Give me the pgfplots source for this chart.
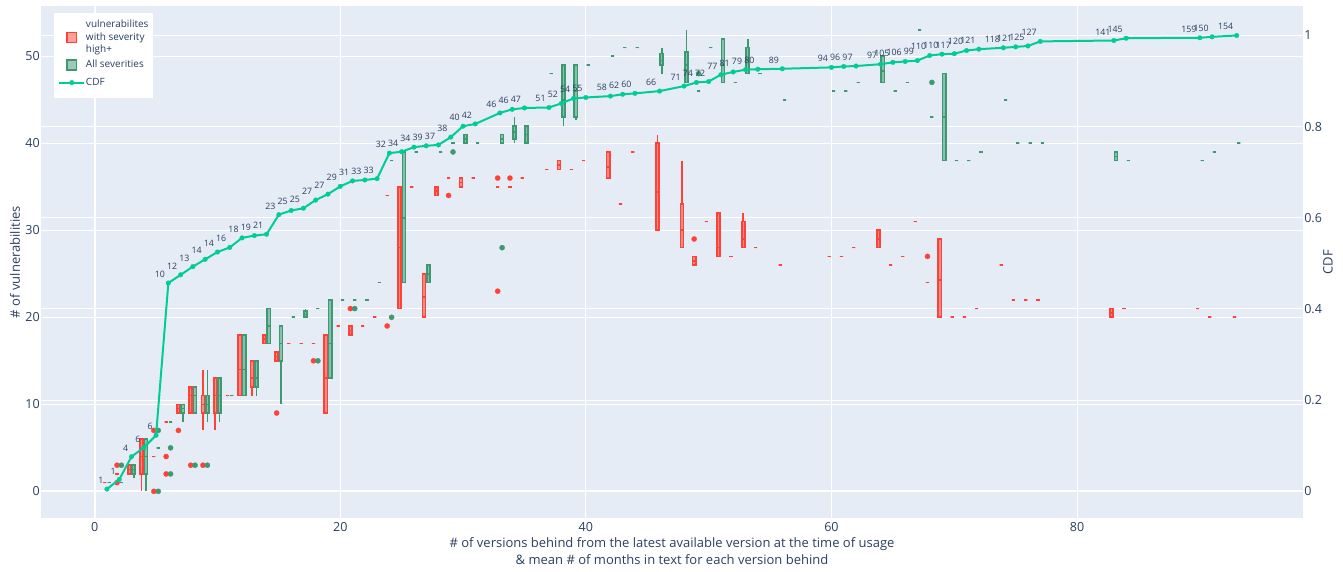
\documentclass[border=0pt]{standalone}
\usepackage{pgfplots}
\pgfplotsset{compat=1.18}
\usepackage{pgfplotstable}
\usepgfplotslibrary{statistics}
\usepackage{fontspec}
\setmainfont{Open Sans}

\definecolor{plotbg}{HTML}{E5ECF6}
\definecolor{labcol}{HTML}{2A3F5F}
\definecolor{redline}{HTML}{FF4136}
\definecolor{greenline}{HTML}{3D9970}
\definecolor{cdfcol}{HTML}{00CC96}

\pgfplotsset{
  boxbase/.style={line width=1.2pt, mark=*, mark size=1.95pt,
    boxplot/draw direction=y,
    boxplot/box extend=0.25, boxplot/whisker extend=0},
  redbox/.style={boxbase, draw=redline,
    mark options={solid, draw=redline, fill=redline, line width=0.2pt},
    boxplot/every box/.style={draw=redline, fill=redline, fill opacity=0.55, draw opacity=1}},
  greenbox/.style={boxbase, draw=greenline,
    mark options={solid, draw=greenline, fill=greenline, line width=0.2pt},
    boxplot/every box/.style={draw=greenline, fill=greenline, fill opacity=0.55, draw opacity=1}},
  squarelegend/.style={legend image code/.code={
    \draw[draw=#1, fill=#1, fill opacity=0.5, draw opacity=1, line width=1pt]
      (-3.7pt,-3.7pt) rectangle (3.7pt,3.7pt);}},
  tallsquarelegend/.style={legend image code/.code={
    \path (0pt,-5.6pt) (0pt,5.6pt);
    \draw[draw=#1, fill=#1, fill opacity=0.5, draw opacity=1, line width=1pt]
      (-3.7pt,-3.7pt) rectangle (3.7pt,3.7pt);}},
  centredline/.style={legend image code/.code={
    \path (0pt,-5.6pt) (0pt,5.6pt);
    \draw[mark repeat=2, mark phase=2, ##1] plot coordinates {(-9.4pt,0pt) (0pt,0pt) (9.4pt,0pt)};}},
}

% one box: position, lower whisker, lower quartile, median, upper quartile, upper whisker, outliers
\newcommand{\R}[7]{\addplot[redbox, boxplot prepared={draw position=#1-0.18,
  lower whisker=#2, lower quartile=#3, median=#4, upper quartile=#5, upper whisker=#6}]
  table[row sep=\\, y index=0] {v\\#7};}
\newcommand{\G}[7]{\addplot[greenbox, boxplot prepared={draw position=#1+0.18,
  lower whisker=#2, lower quartile=#3, median=#4, upper quartile=#5, upper whisker=#6}]
  table[row sep=\\, y index=0] {v\\#7};}
% a group holding a single repeated value
\newcommand{\Ra}[3]{\R{#1}{#2}{#2}{#2}{#2}{#2}{#3}}
\newcommand{\Ga}[3]{\G{#1}{#2}{#2}{#2}{#2}{#2}{#3}}

% cumulative share of usages per number of versions behind, with mean months
\pgfplotstableread{
x c lab
1 0.005 1
2 0.026 1
3 0.076 4
4 0.096 6
5 0.123 6
6 0.457 10
7 0.475 12
8 0.493 13
9 0.509 14
10 0.525 14
11 0.535 16
12 0.556 18
13 0.561 19
14 0.564 21
15 0.607 23
16 0.616 25
17 0.621 25
18 0.639 27
19 0.652 27
20 0.669 29
21 0.681 31
22 0.683 33
23 0.686 33
24 0.742 32
25 0.745 34
26 0.755 34
27 0.758 39
28 0.760 37
29 0.777 38
30 0.801 40
31 0.806 42
33 0.830 46
34 0.838 46
35 0.841 47
37 0.842 51
38 0.851 52
39 0.862 54
40 0.864 55
42 0.867 58
43 0.871 62
44 0.873 60
46 0.878 66
48 0.889 71
49 0.897 74
50 0.899 72
51 0.914 77
52 0.920 81
53 0.925 79
54 0.926 80
56 0.927 89
60 0.930 94
61 0.932 96
62 0.933 97
64 0.937 97
65 0.941 105
66 0.943 106
67 0.945 99
68 0.956 110
69 0.959 110
70 0.960 117
71 0.967 120
72 0.970 121
74 0.973 118
75 0.975 121
76 0.977 125
77 0.987 127
83 0.989 141
84 0.994 145
90 0.995 159
91 0.997 150
93 1.000 154
}\cdf

\begin{document}
\begin{tikzpicture}
\begin{axis}[
  width=946.5pt, height=383.4pt, scale only axis,
  xmin=-4.37, xmax=98.4, ymin=-3.03, ymax=55.72,
  axis background/.style={fill=plotbg},
  axis line style={draw=none},
  tick style={draw=none},
  xtick={0,20,40,60,80}, xticklabels={0,20,40,60,80},
  ytick={0,10,20,30,40,50}, yticklabels={0,10,20,30,40,50},
  minor ytick={10.478,20.957,31.435,41.913,52.391},
  extra x ticks={0}, extra x tick labels={},
  extra y ticks={0}, extra y tick labels={},
  extra tick style={major grid style={white, line width=1.5pt}},
  grid=both,
  major grid style={white, line width=0.75pt},
  minor grid style={white, line width=0.75pt},
  tick label style={font=\fontsize{9.4}{11}\selectfont, text=labcol},
  xticklabel style={anchor=north, inner sep=0pt, yshift=-3pt},
  yticklabel style={anchor=east, inner sep=0pt, xshift=-0.75pt},
  every axis y label/.style={at={(axis description cs:-0.0206,0.5)}, rotate=90, anchor=center,
    font=\fontsize{9.75}{12}\selectfont, text=labcol},
  every axis x label/.style={at={(axis description cs:0.5,-0.066)}, anchor=center, align=center,
    font=\fontsize{9.75}{12.75}\selectfont, text=labcol},
  ylabel={\# of vulnerabilities},
  xlabel={\# of versions behind from the latest available version at the time of usage\\
          \& mean \# of months in text for each version behind},
]
% vulnerabilities with severity high+
\Ra{1}{1}{}
\Ra{2}{2}{1\\3\\}
\R{3}{2}{2}{2.5}{3}{3}{}
\R{4}{0}{2}{4}{6}{6}{}
\Ra{5}{4}{0\\7\\}
\Ra{6}{8}{4\\2\\}
\R{7}{9}{9}{9.5}{10}{10}{7\\}
\R{8}{9}{9}{11}{12}{12}{3\\}
\R{9}{7}{9}{10}{11}{14}{3\\}
\R{10}{7}{9}{11}{13}{13}{}
\Ra{11}{11}{}
\R{12}{11}{11}{14}{18}{18}{}
\R{13}{11}{12}{13}{15}{15}{}
\R{14}{17}{17}{17.5}{18}{18}{}
\R{15}{15}{15}{15.5}{16}{16}{9\\}
\Ra{16}{17}{}
\Ra{17}{17}{}
\Ra{18}{17}{15\\}
\R{19}{9}{9}{13}{18}{18}{}
\Ra{20}{19}{}
\R{21}{18}{18}{18.5}{19}{19}{21\\}
\Ra{22}{19}{}
\Ra{23}{20}{}
\Ra{24}{34}{19\\}
\R{25}{21}{21}{28}{35}{35}{}
\Ra{26}{35}{}
\R{27}{20}{20}{22.3}{25}{25}{}
\R{28}{34}{34}{34.5}{35}{35}{}
\Ra{29}{36}{34\\}
\R{30}{35}{35}{35.5}{36}{36}{}
\Ra{31}{36}{}
\Ra{33}{35}{36\\23\\}
\Ra{34}{35}{36\\}
\Ra{35}{36}{}
\Ra{37}{37}{}
\R{38}{37}{37}{37.5}{38}{38}{}
\Ra{39}{37}{}
\Ra{40}{38}{}
\R{42}{36}{36}{37.3}{39}{39}{}
\Ra{43}{33}{}
\Ra{44}{39}{}
\R{46}{30}{30}{34.4}{40}{41}{}
\R{48}{28}{28}{30}{33}{38}{}
\R{49}{26}{26}{26.5}{27}{27}{29\\}
\Ra{50}{31}{}
\R{51}{27}{27}{28}{32}{32}{}
\Ra{52}{27}{}
\R{53}{28}{28}{29}{31}{32}{}
\Ra{54}{28}{}
\Ra{56}{26}{}
\Ra{60}{27}{}
\Ra{61}{27}{}
\Ra{62}{28}{}
\R{64}{28}{28}{29}{30}{30}{}
\Ra{65}{26}{}
\Ra{66}{27}{}
\Ra{67}{31}{}
\Ra{68}{24}{27\\}
\R{69}{20}{20}{24.3}{29}{29}{}
\Ra{70}{20}{}
\Ra{71}{20}{}
\Ra{72}{21}{}
\Ra{74}{26}{}
\Ra{75}{22}{}
\Ra{76}{22}{}
\Ra{77}{22}{}
\R{83}{20}{20}{20.5}{21}{21}{}
\Ra{84}{21}{}
\Ra{90}{21}{}
\Ra{91}{20}{}
\Ra{93}{20}{}
% all severities
\Ga{1}{1}{}
\Ga{2}{1}{3\\}
\G{3}{1.5}{2}{2.5}{3}{3}{}
\G{4}{0}{2}{4}{6}{6}{}
\Ga{5}{5}{0\\7\\}
\Ga{6}{8}{5\\2\\}
\G{7}{8}{9}{9.5}{10}{10}{}
\G{8}{9}{9}{11}{12}{12}{3\\}
\G{9}{8}{9}{10}{11}{14}{3\\}
\G{10}{8}{9}{11}{13}{13}{}
\Ga{11}{11}{}
\G{12}{11}{11}{14}{18}{18}{}
\G{13}{11}{12}{13}{15}{15}{}
\G{14}{17}{17}{19}{21}{21}{}
\G{15}{10}{15}{17}{19}{19}{}
\Ga{16}{20}{}
\G{17}{20}{20}{20.3}{20.7}{21}{}
\Ga{18}{21}{15\\}
\G{19}{13}{13}{17}{22}{22}{}
\Ga{20}{22}{}
\Ga{21}{22}{21\\}
\Ga{22}{22}{}
\Ga{23}{24}{}
\Ga{24}{38}{20\\}
\G{25}{24}{24}{31.4}{39}{39}{}
\Ga{26}{39}{}
\G{27}{24}{24}{25}{26}{26}{}
\Ga{28}{39}{}
\Ga{29}{40}{39\\}
\G{30}{40}{40}{40.5}{41}{41}{}
\Ga{31}{40}{}
\G{33}{40}{40}{40.5}{41}{41}{28\\}
\G{34}{40}{40.5}{41.3}{42}{43}{}
\G{35}{40}{40}{41}{42}{42}{}
\Ga{37}{48}{}
\G{38}{42}{43}{45}{49}{49}{}
\G{39}{42.7}{43}{46}{49}{49}{}
\Ga{40}{49}{}
\Ga{42}{50}{}
\Ga{43}{51}{}
\Ga{44}{51}{}
\G{46}{48}{49}{49.5}{50.3}{51}{}
\G{48}{47}{47}{49}{50.5}{53}{}
\Ga{49}{46}{48\\}
\Ga{50}{51}{}
\G{51}{47}{47}{49}{52}{52}{}
\Ga{52}{47}{}
\G{53}{48}{48}{49.5}{51}{52}{}
\Ga{54}{48}{}
\Ga{56}{45}{}
\Ga{60}{46}{}
\Ga{61}{46}{}
\Ga{62}{47}{}
\G{64}{47}{47}{48.3}{50}{50}{}
\Ga{65}{46}{}
\Ga{66}{47}{}
\Ga{67}{53}{}
\Ga{68}{43}{47\\}
\G{69}{38}{38}{43}{48}{48}{}
\Ga{70}{38}{}
\Ga{71}{38}{}
\Ga{72}{39}{}
\Ga{74}{45}{}
\Ga{75}{40}{}
\Ga{76}{40}{}
\Ga{77}{40}{}
\G{83}{38}{38}{38.5}{39}{39}{}
\Ga{84}{38}{}
\Ga{90}{38}{}
\Ga{91}{39}{}
\Ga{93}{40}{}
\end{axis}

\begin{axis}[
  width=946.5pt, height=383.4pt, scale only axis,
  xmin=-4.37, xmax=98.4, ymin=-0.0578, ymax=1.0636,
  axis x line=none, axis y line*=right,
  axis line style={draw=none}, tick style={draw=none},
  ytick={0,0.2,0.4,0.6,0.8,1}, yticklabels={0,0.2,0.4,0.6,0.8,1},
  yticklabel style={anchor=west, inner sep=0pt, xshift=0.75pt,
    font=\fontsize{9.4}{11}\selectfont, text=labcol},
  every axis y label/.style={at={(axis description cs:1.0198,0.5)}, rotate=90, anchor=center,
    font=\fontsize{9.75}{12}\selectfont, text=labcol},
  ylabel={CDF},
  legend cell align=left,
  legend style={at={(axis description cs:0.0103,0.9887)}, anchor=north west,
    fill=white, draw=none, text=labcol,
    font=\fontsize{7.5}{9.2}\selectfont,
    inner xsep=3pt, inner ysep=5pt, row sep=1.1pt,
    nodes={inner sep=0.5pt, text height=5.6pt, text depth=1.8pt},
    /tikz/every even column/.style={column sep=2.5pt}},
]
\addlegendimage{empty legend}
\addlegendentry{vulnerabilites}
\addlegendimage{squarelegend=redline}
\addlegendentry{with severity}
\addlegendimage{empty legend}
\addlegendentry{high+}
\addlegendimage{tallsquarelegend=greenline}
\addlegendentry{All severities}
\addplot[cdfcol, line width=1.5pt, mark=*, mark size=1.75pt,
  mark options={solid, fill=cdfcol, draw=cdfcol, line width=0.2pt},
  centredline,
  nodes near coords, point meta=explicit symbolic,
  nodes near coords style={anchor=south east, inner sep=0pt, xshift=-2.5pt, yshift=4pt,
    font=\fontsize{6.6}{8}\selectfont, text=labcol, text height=, text depth=}]
  table[x=x, y=c, meta=lab] {\cdf};
\addlegendentry{CDF}
\end{axis}
\pgfresetboundingbox
\path[use as bounding box] (-30.75pt,-40pt) rectangle (976.5pt,388.275pt);
\end{tikzpicture}
\end{document}
